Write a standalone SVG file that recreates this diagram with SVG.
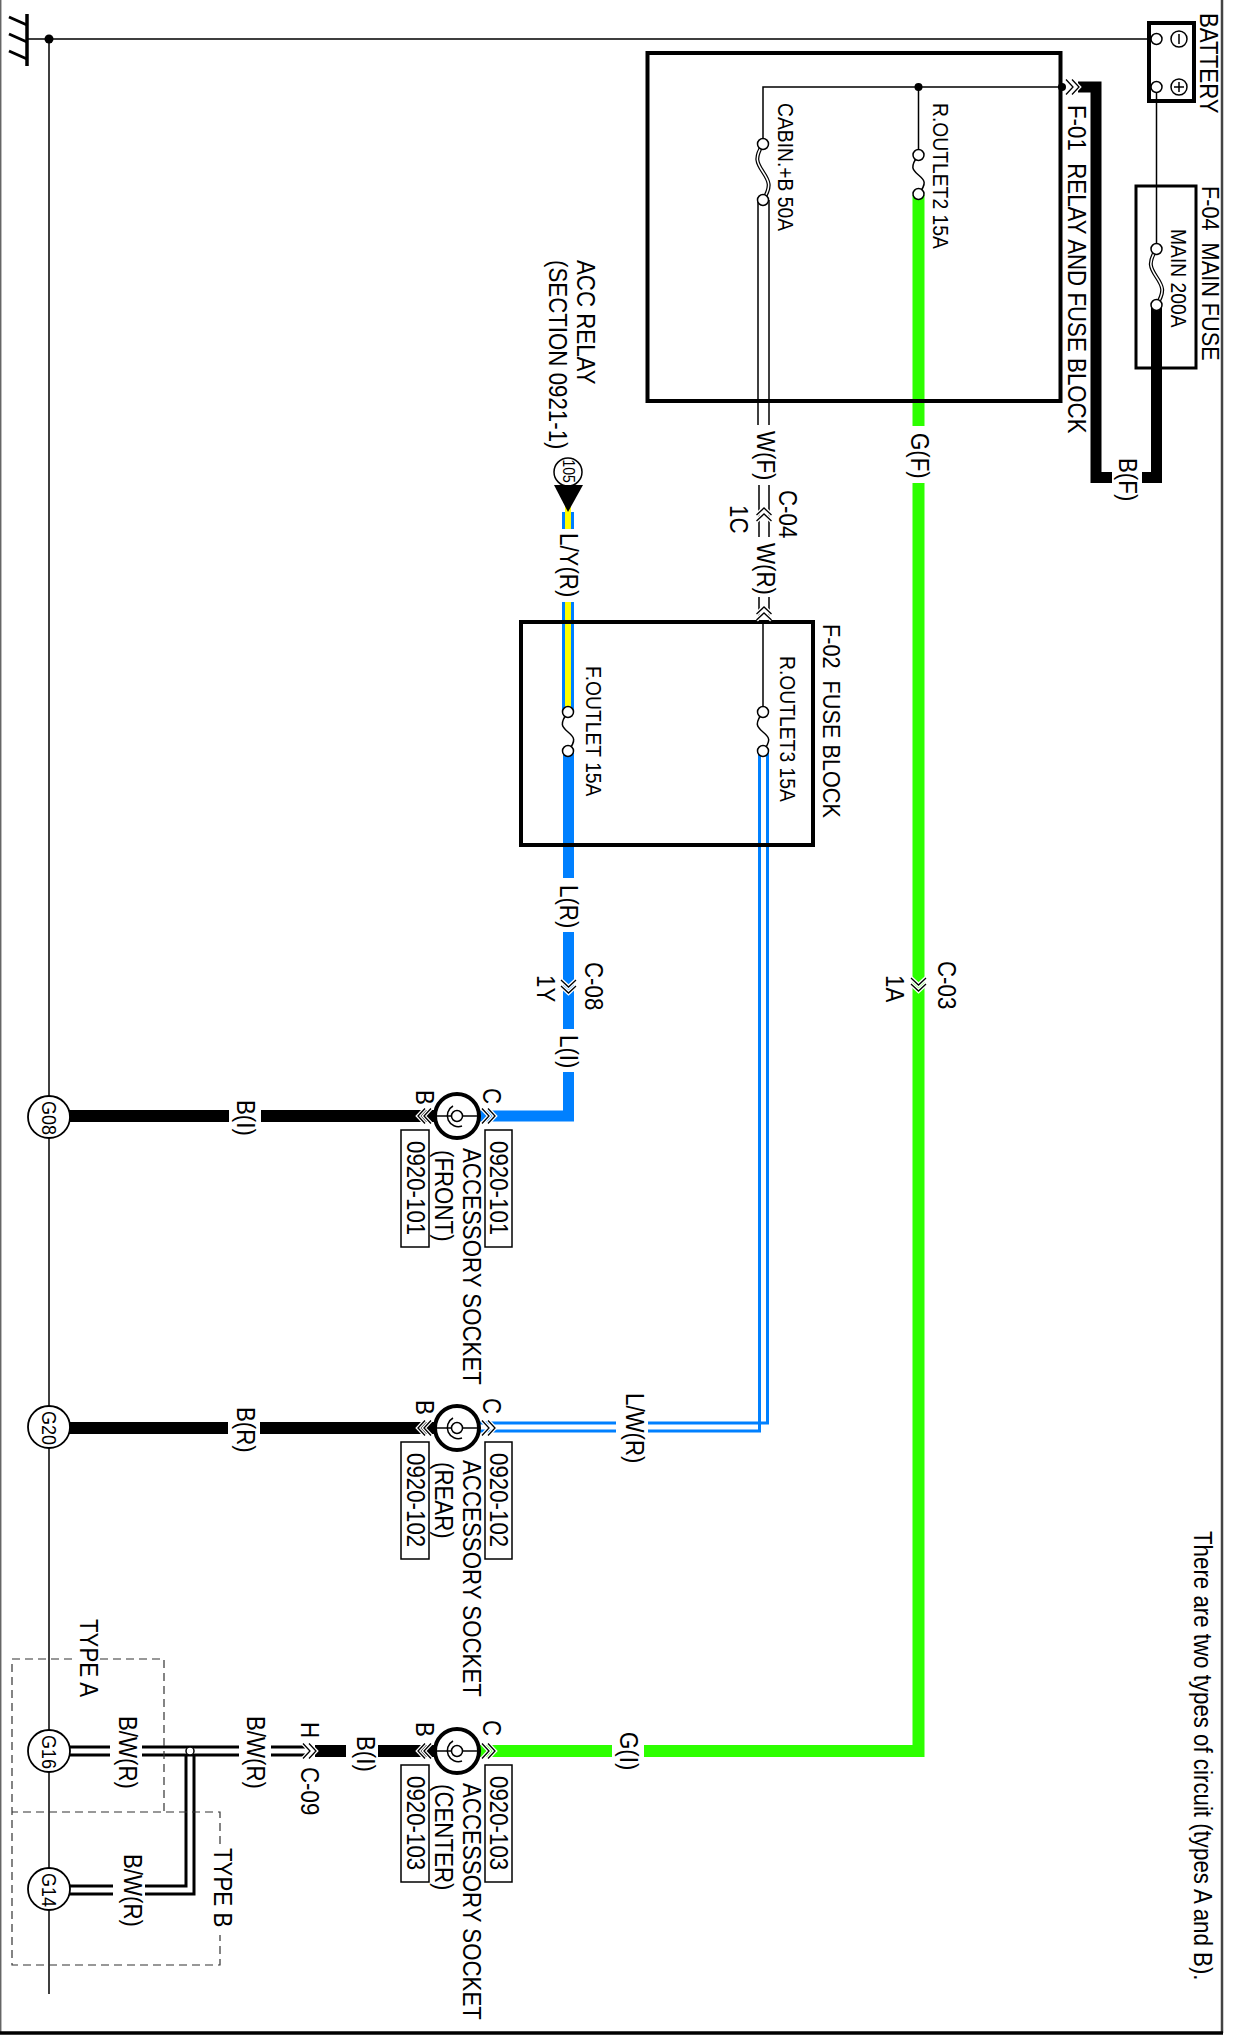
<svg xmlns="http://www.w3.org/2000/svg" xmlns:xlink="http://www.w3.org/1999/xlink" width="1233" height="2038" viewBox="0 0 1233 2038">
<style>
text{font-family:"Liberation Sans",Arial,sans-serif;font-size:22.3px;fill:#000}
.s{font-size:19.3px}
.g{font-size:18px}
.m{font-size:21.7px}
.box{fill:none;stroke:#000;stroke-width:4}
.lb{fill:#fff;stroke:#000;stroke-width:1.5}
.th{fill:none;stroke:#000;stroke-width:1.5}
.bk{fill:none;stroke:#000;stroke-width:12}
.gr{fill:none;stroke:#2dff00;stroke-width:12}
.bl{fill:none;stroke:#0080ff;stroke-width:12}
.ye{fill:none;stroke:#ffff00;stroke-width:6}
.dw{fill:none;stroke:#000;stroke-width:3}
.dbl{fill:none;stroke:#0080ff;stroke-width:3}
.dash{fill:none;stroke:#333;stroke-width:1.2;stroke-dasharray:8 5}
.term{fill:#fff;stroke:#000;stroke-width:1.5}
.gnd{fill:#fff;stroke:#000;stroke-width:1.8}
.sock{fill:#fff;stroke:#000;stroke-width:4}
.ch1{fill:none;stroke:#fff;stroke-width:4}
.ch2{fill:none;stroke:#000;stroke-width:1.3}
</style>
<defs>
<g id="chev"><path class="ch1" d="M-7,-7.5L0,0L-7,7.5M-1,-7.5L6,0L-1,7.5"/><path class="ch2" d="M-7,-7.5L0,0L-7,7.5M-1,-7.5L6,0L-1,7.5"/></g>
<g id="fuse"><path class="th" d="M0,0C-9,12 -6,15 0,20S9,28 0,39"/><circle class="term" cy="0" r="5.5"/><circle class="term" cy="39" r="5.5"/></g>
<g id="fuseT"><path fill="none" stroke="#000" stroke-width="4" d="M0,0C-9,14 -6,19 0,28S9,42 0,56"/><path fill="none" stroke="#fff" stroke-width="1.5" d="M0,0C-9,14 -6,19 0,28S9,42 0,56"/><circle class="term" cy="0" r="5.5"/><circle class="term" cy="56" r="5.5"/></g>
<g id="socket"><circle class="sock" r="22"/><path class="th" d="M-22,0H22"/><path class="th" d="M-4,-10A11,11 0 0 0 5,10"/><circle class="term" r="5.5"/></g>
</defs>

<g id="border"><path d="M0.7,0V2033" fill="none" stroke="#666" stroke-width="1.5"/><path d="M1222,0V2033" fill="none" stroke="#444" stroke-width="2.5"/><path d="M0,2033H1223" fill="none" stroke="#000" stroke-width="3.5"/></g>

<g id="connectors">
<path class="th" d="M27,39H1149M49,39V1994"/>
<path class="th" d="M1156.5,87V249"/>
<path class="bk" style="stroke-width:11" d="M1156.5,305V477.5H1142"/>
<path class="bk" style="stroke-width:11" d="M1112,477.5H1096V87H1078"/>
<path class="th" d="M763,144V87H1063M918.5,87V155"/>
<path class="gr" d="M918.5,195V426M918.5,483V1751H644M612,1751H480"/>
<path class="th" d="M758,200V425M769,200V425M759,485V537M769,485V537M759,597V622M769,597V622"/>
<path class="th" d="M763,622V712"/>
<path class="dbl" d="M759.5,751V1431H648M616,1431H480M767.5,751V1423H648M616,1423H480"/>
<path class="bl" d="M568,512V529M568,602V712" style="stroke-width:12"/>
<path class="ye" d="M568,500V529M568,602V712"/>
<path class="bl" d="M568.5,751V878M568.5,932V1029M568.5,1072V1116H480" style="stroke-width:11"/>
<path class="bk" d="M69,1116H229M261,1116H440"/>
<path class="bk" d="M69,1428H228M260,1428H440"/>
<path class="bk" d="M378,1751H440M315,1751H346"/>
<path class="dw" d="M69,1747H110M142,1747H239M271,1747H305M69,1755H110M142,1755H239M271,1755H305"/>
<path class="dw" d="M186,1755V1886H145M113,1886H69M194,1755V1894H145M113,1894H69"/>
<circle class="term" cx="190" cy="1751" r="4"/>
<path class="dash" d="M72,1659H12V1965H220V1935M220,1844V1812H12M100,1659H164V1812"/>
</g>

<g id="ground-symbol"><path d="M27,14V66" fill="none" stroke="#000" stroke-width="3.5"/><path d="M9,17L27,25M9,34L27,42M9,51L27,59" fill="none" stroke="#000" stroke-width="3"/><circle cx="49" cy="39" r="4.5"/></g>

<g id="battery"><rect class="box" x="1149" y="23" width="45" height="78"/><circle class="term" cx="1156.5" cy="39" r="5.5"/><circle class="term" cx="1156.5" cy="87" r="5.5"/><circle class="term" cx="1179" cy="39" r="8"/><circle class="term" cx="1179" cy="87" r="8"/><path class="th" d="M1179,34V44M1179,82V92M1174,87H1184"/><text transform="translate(1199.5 13) rotate(90) scale(1,1.12)">BATTERY</text></g>

<g id="main-fuse"><rect class="box" style="stroke-width:3" x="1136" y="186" width="60" height="182"/><use xlink:href="#fuseT" x="1156.5" y="249"/><text class="s" transform="translate(1171 229) rotate(90) scale(1,1.12)">MAIN 200A</text><text class="m" transform="translate(1202 186) rotate(90) scale(1,1.12)" xml:space="preserve">F-04  MAIN FUSE</text></g>

<g id="relay-block"><rect class="box" x="647.5" y="53" width="413" height="348"/><use xlink:href="#fuseT" x="763" y="144"/><use xlink:href="#fuse" x="918.5" y="155"/><circle cx="918.5" cy="87" r="4"/><circle cx="1062" cy="87" r="4"/><text class="s" transform="translate(778 103) rotate(90) scale(1,1.12)">CABIN.+B 50A</text><text class="s" transform="translate(933 103) rotate(90) scale(1,1.12)">R.OUTLET2 15A</text><text transform="translate(1067.5 105) rotate(90) scale(1,1.12)" xml:space="preserve">F-01  RELAY AND FUSE BLOCK</text></g>

<g id="fuse-block"><rect class="box" x="521" y="622" width="292" height="223"/><use xlink:href="#fuse" x="568" y="712"/><use xlink:href="#fuse" x="763" y="712"/><text class="s" transform="translate(586 666) rotate(90) scale(1,1.12)">F.OUTLET 15A</text><text class="s" transform="translate(780 656) rotate(90) scale(1,1.12)">R.OUTLET3 15A</text><text class="m" transform="translate(822.5 624) rotate(90) scale(1,1.12)" xml:space="preserve">F-02  FUSE BLOCK</text></g>

<g id="acc-relay"><circle class="lb" cx="568" cy="472" r="14"/><text transform="translate(562.5 459.5) rotate(90) scale(1,1.12)" style="font-size:14px">105</text><path d="M554,485H583L568,512Z"/><text transform="translate(576.5 260) rotate(90) scale(1,1.12)">ACC RELAY</text><text transform="translate(548.5 260) rotate(90) scale(1,1.12)">(SECTION 0921-1)</text></g>

<g id="chevrons">
<use xlink:href="#chev" transform="translate(1073 87)"/>
<use xlink:href="#chev" transform="translate(764 514) rotate(-90)"/>
<use xlink:href="#chev" transform="translate(764 613) rotate(-90)"/>
<use xlink:href="#chev" transform="translate(568.5 987) rotate(90)"/>
<use xlink:href="#chev" transform="translate(918.5 985) rotate(90)"/>
<use xlink:href="#chev" transform="translate(489 1116)"/>
<use xlink:href="#chev" transform="translate(424 1116) rotate(180)"/>
<use xlink:href="#chev" transform="translate(489 1428)"/>
<use xlink:href="#chev" transform="translate(424 1428) rotate(180)"/>
<use xlink:href="#chev" transform="translate(489 1751)"/>
<use xlink:href="#chev" transform="translate(424 1751) rotate(180)"/>
<use xlink:href="#chev" transform="translate(310 1751)"/>
</g>

<g id="socket-front"><use xlink:href="#socket" x="457" y="1116"/><rect class="lb" x="485" y="1130" width="27" height="117"/><rect class="lb" x="401" y="1130" width="28" height="117"/><text transform="translate(489.5 1141) rotate(90) scale(1,1.12)">0920-101</text><text transform="translate(406.5 1141) rotate(90) scale(1,1.12)">0920-101</text><text transform="translate(462.5 1148) rotate(90) scale(1,1.12)">ACCESSORY SOCKET</text><text transform="translate(434.5 1150) rotate(90) scale(1,1.12)">(FRONT)</text><text transform="translate(482.5 1088) rotate(90) scale(1,1.12)">C</text><text transform="translate(415.5 1090) rotate(90) scale(1,1.12)">B</text></g>
<g id="socket-rear"><use xlink:href="#socket" x="457" y="1428"/><rect class="lb" x="485" y="1442" width="27" height="117"/><rect class="lb" x="401" y="1442" width="28" height="117"/><text transform="translate(489.5 1453) rotate(90) scale(1,1.12)">0920-102</text><text transform="translate(406.5 1453) rotate(90) scale(1,1.12)">0920-102</text><text transform="translate(462.5 1460) rotate(90) scale(1,1.12)">ACCESSORY SOCKET</text><text transform="translate(434.5 1462) rotate(90) scale(1,1.12)">(REAR)</text><text transform="translate(482.5 1398) rotate(90) scale(1,1.12)">C</text><text transform="translate(415.5 1400) rotate(90) scale(1,1.12)">B</text></g>
<g id="socket-center"><use xlink:href="#socket" x="457" y="1751"/><rect class="lb" x="485" y="1765" width="27" height="117"/><rect class="lb" x="401" y="1765" width="28" height="117"/><text transform="translate(489.5 1776) rotate(90) scale(1,1.12)">0920-103</text><text transform="translate(406.5 1776) rotate(90) scale(1,1.12)">0920-103</text><text transform="translate(462.5 1783) rotate(90) scale(1,1.12)">ACCESSORY SOCKET</text><text transform="translate(434.5 1784) rotate(90) scale(1,1.12)">(CENTER)</text><text transform="translate(482.5 1720) rotate(90) scale(1,1.12)">C</text><text transform="translate(415.5 1722) rotate(90) scale(1,1.12)">B</text></g>

<g id="G08"><circle class="gnd" cx="49" cy="1117" r="21"/><text class="g" transform="translate(41.8 1101) rotate(90) scale(1,1.12)">G08</text></g>
<g id="G20"><circle class="gnd" cx="49" cy="1427" r="21"/><text class="g" transform="translate(41.8 1411) rotate(90) scale(1,1.12)">G20</text></g>
<g id="G16"><circle class="gnd" cx="49" cy="1751" r="21"/><text class="g" transform="translate(41.8 1735) rotate(90) scale(1,1.12)">G16</text></g>
<g id="G14"><circle class="gnd" cx="49" cy="1889" r="21"/><text class="g" transform="translate(41.8 1873) rotate(90) scale(1,1.12)">G14</text></g>

<g id="wire-labels">
<text transform="translate(1118.5 458) rotate(90) scale(1,1.12)">B(F)</text>
<text transform="translate(910.5 433) rotate(90) scale(1,1.12)">G(F)</text>
<text transform="translate(756.5 431) rotate(90) scale(1,1.12)">W(F)</text>
<text transform="translate(778.5 490) rotate(90) scale(1,1.12)">C-04</text>
<text transform="translate(729.5 505) rotate(90) scale(1,1.12)">1C</text>
<text transform="translate(756.5 543) rotate(90) scale(1,1.12)">W(R)</text>
<text transform="translate(559.5 533) rotate(90) scale(1,1.12)">L/Y(R)</text>
<text transform="translate(559.5 885) rotate(90) scale(1,1.12)">L(R)</text>
<text transform="translate(584.5 962) rotate(90) scale(1,1.12)">C-08</text>
<text transform="translate(536.5 975) rotate(90) scale(1,1.12)">1Y</text>
<text transform="translate(559.5 1035) rotate(90) scale(1,1.12)">L(I)</text>
<text transform="translate(937.5 961) rotate(90) scale(1,1.12)">C-03</text>
<text transform="translate(885.5 975) rotate(90) scale(1,1.12)">1A</text>
<text transform="translate(236.5 1100) rotate(90) scale(1,1.12)">B(I)</text>
<text transform="translate(236.5 1407) rotate(90) scale(1,1.12)">B(R)</text>
<text transform="translate(625.5 1393) rotate(90) scale(1,1.12)">L/W(R)</text>
<text transform="translate(619.5 1732) rotate(90) scale(1,1.12)">G(I)</text>
<text transform="translate(356.5 1736) rotate(90) scale(1,1.12)">B(I)</text>
<text transform="translate(118.5 1716) rotate(90) scale(1,1.12)">B/W(R)</text>
<text transform="translate(246.5 1716) rotate(90) scale(1,1.12)">B/W(R)</text>
<text transform="translate(123.5 1854) rotate(90) scale(1,1.12)">B/W(R)</text>
<text transform="translate(300.5 1722) rotate(90) scale(1,1.12)">H</text>
<text transform="translate(300.5 1767) rotate(90) scale(1,1.12)">C-09</text>
<text transform="translate(79.5 1619) rotate(90) scale(1,1.12)">TYPE A</text>
<text transform="translate(213.5 1848) rotate(90) scale(1,1.12)">TYPE B</text>
<text transform="translate(1193.5 1531) rotate(90) scale(1,1.12)">There are two types of circuit (types A and B).</text>
</g>
</svg>
